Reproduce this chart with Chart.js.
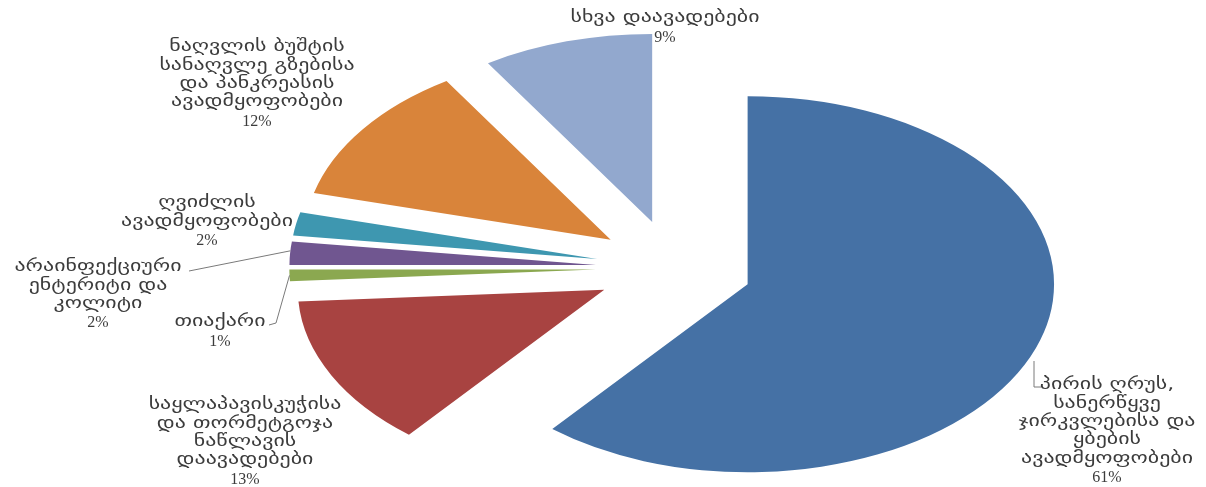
<!DOCTYPE html>
<html>
<head>
<meta charset="utf-8">
<script src="https://cdn.jsdelivr.net/npm/chart.js@4.4.1/dist/chart.umd.min.js"></script>
<style>
  html, body { margin: 0; background: #fff; }
  #pie { display: block; }
</style>
</head>
<body>
<canvas id="pie" width="1206" height="487"></canvas>
<script>
// slices, clockwise from 12 o'clock
const nameLines = [
  ['პირის ღრუს,', 'სანერწყვე', 'ჯირკვლებისა და', 'ყბების', 'ავადმყოფობები'],
  ['საყლაპავისკუჭისა', 'და თორმეტგოჯა', 'ნაწლავის', 'დაავადებები'],
  ['თიაქარი'],
  ['არაინფექციური', 'ენტერიტი და', 'კოლიტი'],
  ['ღვიძლის', 'ავადმყოფობები'],
  ['ნაღვლის ბუშტის', 'სანაღვლე გზებისა', 'და პანკრეასის', 'ავადმყოფობები'],
  ['სხვა დაავადებები']
];
const categories = nameLines.map(l => l.join(' '));
const shares = [61, 13, 1, 2, 2, 12, 9];
const sliceColors = ['#4571a5', '#a84341', '#8ba850', '#705690', '#3e97b0', '#d9843a', '#92a8ce'];

// layout
const xStretch = 1.63;      // pie is drawn flattened into an ellipse
const explodeGap = 48;      // every slice pulled out from the centre
const lineGap = 18.4;
const labelPos = [
  { x: 1107, y: 385 },
  { x: 245, y: 405 },
  { x: 220, y: 322 },
  { x: 98,  y: 267 },
  { x: 207, y: 203 },
  { x: 257, y: 47 },
  { x: 665, y: 18 }
];
const textFont = '16px "DejaVu Sans"';
const pctFont = '16px "Liberation Serif"';
const textColor = '#3c3c3c';

const canvas = document.getElementById('pie');

function pieCenterX(chart) {
  return (chart.chartArea.left + chart.chartArea.right) / 2;
}

// point on the outer rim of slice i, in screen coordinates
function rimPoint(chart, i, frac) {
  const arc = chart.getDatasetMeta(0).data[i];
  const a = arc.startAngle + (arc.endAngle - arc.startAngle) * frac;
  const cx = pieCenterX(chart);
  const x = arc.x + Math.cos(a) * arc.outerRadius;
  const y = arc.y + Math.sin(a) * arc.outerRadius;
  return { x: cx + (x - cx) * xStretch, y: y };
}

const explode = {
  id: 'explode',
  afterDatasetsUpdate(chart) {
    chart.getDatasetMeta(0).data.forEach(arc => {
      const mid = (arc.startAngle + arc.endAngle) / 2;
      arc.x += Math.cos(mid) * explodeGap;
      arc.y += Math.sin(mid) * explodeGap;
    });
  }
};

const flatten = {
  id: 'flatten',
  beforeDatasetsDraw(chart) {
    const ctx = chart.ctx;
    const cx = pieCenterX(chart);
    ctx.save();
    ctx.translate(cx, 0);
    ctx.scale(xStretch, 1);
    ctx.translate(-cx, 0);
  },
  afterDatasetsDraw(chart) {
    chart.ctx.restore();
  }
};

const sliceLabels = {
  id: 'sliceLabels',
  afterDraw(chart) {
    const ctx = chart.ctx;
    ctx.save();
    ctx.fillStyle = textColor;
    ctx.textAlign = 'center';
    ctx.textBaseline = 'middle';
    ctx.font = textFont;
    const textStretch = 172 / ctx.measureText('ავადმყოფობები').width;

    nameLines.forEach((lines, i) => {
      const p = labelPos[i];
      ctx.font = textFont;
      lines.forEach((t, j) => {
        ctx.save();
        ctx.translate(p.x, p.y + j * lineGap);
        ctx.scale(textStretch, 1);
        ctx.fillText(t, 0, 0);
        ctx.restore();
      });
      ctx.font = pctFont;
      ctx.fillText(shares[i] + '%', p.x, p.y + lines.length * lineGap + 1);
    });

    // leader lines
    ctx.strokeStyle = '#7a7a7a';
    ctx.lineWidth = 1;
    let end = rimPoint(chart, 3, 0.6);
    ctx.beginPath();
    ctx.moveTo(189, 271);
    ctx.lineTo(end.x, end.y);
    ctx.stroke();

    end = rimPoint(chart, 2, 0.5);
    ctx.beginPath();
    ctx.moveTo(269, 325);
    ctx.lineTo(276, 323);
    ctx.lineTo(end.x, end.y);
    ctx.stroke();

    ctx.beginPath();
    ctx.moveTo(1034, 361);
    ctx.lineTo(1034, 387);
    ctx.lineTo(1041, 387);
    ctx.stroke();
    ctx.restore();
  }
};

const chart = new Chart(canvas, {
  type: 'pie',
  data: {
    labels: categories,
    datasets: [{
      data: shares,
      backgroundColor: sliceColors,
      borderWidth: 0,
      radius: 188
    }]
  },
  options: {
    responsive: false,
    animation: false,
    devicePixelRatio: 1,
    layout: { padding: { left: 142, top: 49, right: 0, bottom: 0 } },
    plugins: {
      legend: { display: false },
      tooltip: { enabled: false }
    }
  },
  plugins: [explode, flatten, sliceLabels]
});
</script>
</body>
</html>
